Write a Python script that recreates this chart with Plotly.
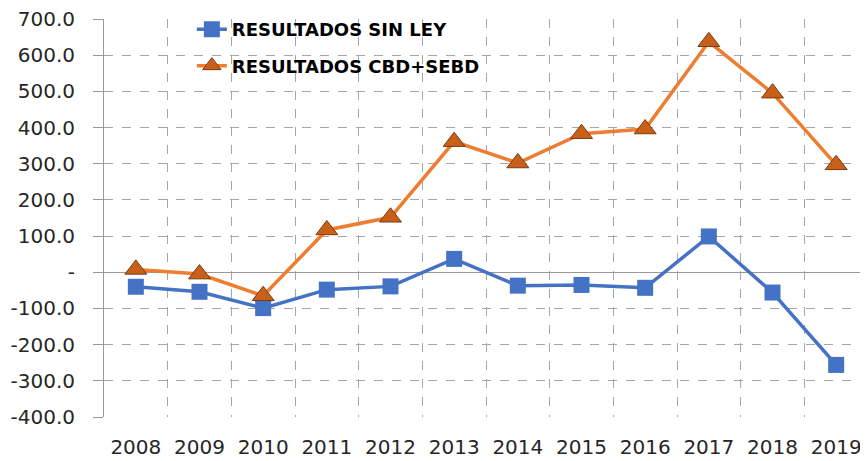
import plotly.graph_objects as go

# datos
years = ["2008", "2009", "2010", "2011", "2012", "2013",
         "2014", "2015", "2016", "2017", "2018", "2019"]
sin_ley = [-40, -54, -99, -48, -39, 37, -37, -35, -43, 99, -56, -256]
cbd_sebd = [8, -5, -65, 117, 152, 361, 302, 383, 396, 637, 495, 297]

y_ticks = [700, 600, 500, 400, 300, 200, 100, 0, -100, -200, -300, -400]
y_labels = ["700.0", "600.0", "500.0", "400.0", "300.0", "200.0", "100.0", "-",
            "-100.0", "-200.0", "-300.0", "-400.0"]

BLUE = "#4472C4"
ORANGE = "#ED7D31"
GRID = "#A6A6A6"
TEXT = "#262626"

fig = go.Figure()

fig.add_trace(go.Scatter(
    x=years, y=sin_ley, mode="lines+markers", name="RESULTADOS SIN LEY",
    legendgroup="a",
    line=dict(color=BLUE, width=3.5),
    marker=dict(symbol="square", size=16, color=BLUE),
))
fig.add_trace(go.Scatter(
    x=years, y=cbd_sebd, mode="lines+markers", name="RESULTADOS CBD+SEBD",
    legendgroup="b",
    line=dict(color=ORANGE, width=3.5),
    marker=dict(symbol="triangle-up", size=19, color="#C8601A",
                line=dict(color="#7A3A10", width=1)),
))

# white box behind the legend hides part of the grid, like the original
fig.add_shape(type="rect", layer="between", xref="paper", yref="y",
              x0=0.047, x1=0.55, y0=512, y1=720,
              fillcolor="white", line=dict(width=0))

fig.update_xaxes(
    type="category", tickson="boundaries", range=[-0.5, 11.5],
    showgrid=True, gridcolor=GRID, griddash="dash", gridwidth=1,
    ticks="", showline=False, zeroline=False,
    tickfont=dict(family="DejaVu Sans", size=20, color=TEXT),
    ticklabelstandoff=16, ticklabeloverflow="allow",
)
fig.update_yaxes(
    range=[-400, 700], tickvals=y_ticks, ticktext=y_labels,
    showgrid=True, gridcolor=GRID, griddash="dash", gridwidth=1,
    zeroline=True, zerolinecolor="#999999", zerolinewidth=1,
    showline=True, linecolor="#999999", linewidth=1,
    ticks="outside", ticklen=10, tickcolor="#999999",
    tickfont=dict(family="DejaVu Sans", size=20, color=TEXT),
    ticklabelstandoff=14, ticklabeloverflow="allow",
)

# the page body adds an 8px offset, so margins are shifted to compensate
fig.update_layout(
    width=868, height=461,
    margin=dict(l=96, r=8, t=11, b=52, autoexpand=False),
    plot_bgcolor="white", paper_bgcolor="white",
    showlegend=True,
    legend=dict(
        x=0.115, y=1.02, xanchor="left", yanchor="top",
        bgcolor="rgba(0,0,0,0)", borderwidth=0,
        tracegroupgap=10,
        font=dict(family="DejaVu Sans", size=18, color="black", weight="bold"),
    ),
)

fig.write_html("out.html")
